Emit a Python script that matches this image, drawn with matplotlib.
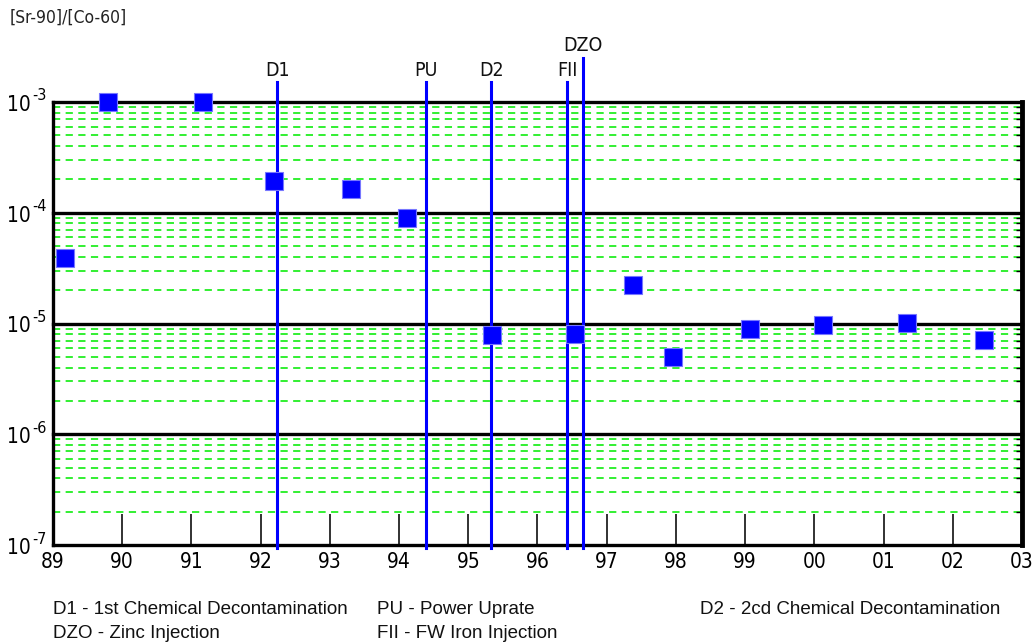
import matplotlib
matplotlib.use("Agg")
import matplotlib.pyplot as plt
import numpy as np
from matplotlib import font_manager

# ---- data ----
years = [89.17, 89.79, 91.17, 92.19, 93.31, 94.12, 95.34, 96.54, 97.38, 97.96, 99.07, 100.13, 101.34, 102.45]
ratios = [3.9e-5, 9.9e-4, 9.9e-4, 1.94e-4, 1.64e-4, 9.0e-5, 7.9e-6, 8.0e-6, 2.23e-5, 5.0e-6, 8.9e-6, 9.7e-6, 1.01e-5, 7.1e-6]
event_names = ["D1", "PU", "D2", "FII", "DZO"]
event_years = [92.24, 94.39, 95.33, 96.43, 96.66]
event_tops = [1.5e-3, 1.5e-3, 1.5e-3, 1.5e-3, 2.5e-3]
xtick_pos = list(range(89, 104))
xtick_labels = ["89", "90", "91", "92", "93", "94", "95", "96", "97", "98", "99", "00", "01", "02", "03"]
ytick_pos = [1e-7, 1e-6, 1e-5, 1e-4, 1e-3]
ytick_labels = ["$10^{-7}$", "$10^{-6}$", "$10^{-5}$", "$10^{-4}$", "$10^{-3}$"]
legend_rows = [
    ["D1 - 1st Chemical Decontamination", "PU - Power Uprate", "D2 - 2cd Chemical Decontamination"],
    ["DZO - Zinc Injection", "FII - FW Iron Injection", ""],
]

names = {f.name for f in font_manager.fontManager.ttflist}
cond = None
for f in font_manager.fontManager.ttflist:
    if f.name == "DejaVu Sans" and "ondensed" in f.fname and f.weight in (400, "normal") and f.style == "normal":
        cond = f.fname
        break
if "Liberation Sans Narrow" in names:
    narrow_fp = dict(family="Liberation Sans Narrow")
elif cond:
    narrow_fp = dict(family="DejaVu Sans", stretch="condensed")
else:
    narrow_fp = dict(family="Liberation Sans")

plt.rcParams["font.family"] = ["Liberation Sans", "DejaVu Sans"]

fig = plt.figure(figsize=(10.34, 6.44), dpi=100)
ax = fig.add_axes([53/1034, 1-545/644, (1022-53)/1034, (545-102)/644])
ax.set_yscale("log")
ax.set_xlim(89, 103)
ax.set_ylim(1e-7, 1e-3)

# minor grid (green dashed) at 2..9 of each decade
for dec in range(-7, -3):
    for m in range(2, 10):
        ax.axhline(m * 10.0**dec, color="#22ee22", lw=1.3, ls=(0, (4, 3)), zorder=1)
# major grid
for dec in [-6, -5, -4, -3]:
    ax.axhline(10.0**dec, color="black", lw=2.4, zorder=2, clip_on=False)

# event lines
for name, xv, top in zip(event_names, event_years, event_tops):
    ax.plot([xv, xv], [9.4e-8, top], color="#0000ff", lw=2.2, zorder=3, clip_on=False)
    ax.text(xv, top * 1.06, name, ha="center", va="bottom", fontsize=14, color="#111111",
            clip_on=False, **narrow_fp)

# data markers
ax.plot(years, ratios, ls="none", marker="s", markersize=13.5, markerfacecolor="#0000ff",
        markeredgecolor="#7777ff", markeredgewidth=0.8, zorder=5, clip_on=False)

ax.set_xticks(xtick_pos)
ax.set_xticklabels(xtick_labels, fontsize=15, **narrow_fp)
ax.set_yticks(ytick_pos)
ax.set_yticklabels([])
ax.yaxis.set_minor_locator(matplotlib.ticker.LogLocator(base=10, subs=np.arange(2, 10)))
ax.yaxis.set_minor_formatter(matplotlib.ticker.NullFormatter())
ax.tick_params(axis="x", direction="in", length=22, width=1.3, pad=5, color="#222222")
ax.tick_params(axis="y", which="major", direction="in", length=0, pad=4)
ax.tick_params(axis="y", which="minor", direction="in", length=4, width=1.0, left=False, right=True)

# y tick labels drawn as base + exponent (narrow font)
for yv, lab in zip(ytick_pos, ytick_labels):
    exp = lab.split("{")[1].split("}")[0]
    ax.annotate("10", xy=(0, yv), xycoords=("axes fraction", "data"), xytext=(-22, -3),
                textcoords="offset pixels", ha="right", va="center", fontsize=15, **narrow_fp)
    ax.annotate(exp, xy=(0, yv), xycoords=("axes fraction", "data"), xytext=(-21, 6),
                textcoords="offset pixels", ha="left", va="center", fontsize=11.5,
                annotation_clip=False, **narrow_fp)

for s in ["left", "bottom", "top"]:
    ax.spines[s].set_linewidth(2.4)
ax.spines["right"].set_linewidth(3.5)
ax.spines["top"].set_visible(False)

fig.text(10/1034, 1-18/644, "[Sr-90]/[Co-60]", fontsize=12.5, ha="left", va="center",
         color="#222222", **narrow_fp)

col_x = [53, 377, 700]
row_y = [610, 634]
for r, row in enumerate(legend_rows):
    for c, txt in enumerate(row):
        if txt:
            fig.text(col_x[c]/1034, 1-row_y[r]/644, txt, fontsize=13.5, ha="left", va="center",
                     family=["Liberation Sans", "DejaVu Sans"], color="#111111")

fig.savefig("out.png", dpi=100)
